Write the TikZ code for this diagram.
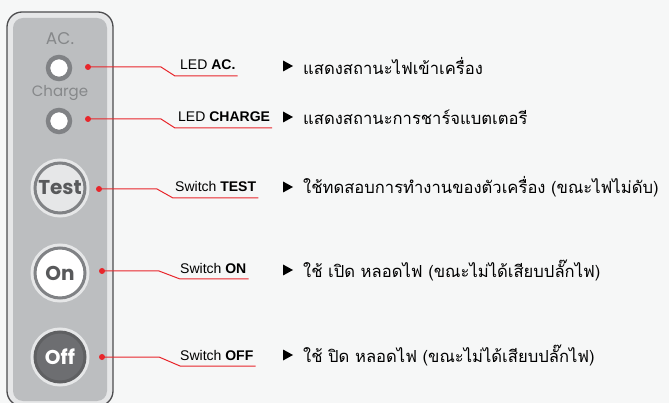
\documentclass[tikz,border=0pt]{standalone}
\usepackage{fontspec}
\setmainfont{Liberation Sans}
\newfontfamily\panelfont{Poppins}
\newfontfamily\thaifont[Script=Thai]{Loma}
\definecolor{bgcol}{HTML}{F6F7F7}
\definecolor{framegray}{HTML}{4D4D4F}
\definecolor{panelgray}{HTML}{BCBEC0}
\definecolor{rimgray}{HTML}{E6E7E8}
\definecolor{ringgray}{HTML}{808285}
\definecolor{textgray}{HTML}{86888A}
\definecolor{darkgray}{HTML}{58595B}
\definecolor{offgray}{HTML}{6D6E71}
\definecolor{offring}{HTML}{5F6062}
\definecolor{leadred}{HTML}{E8262B}
\tikzset{
  panellbl/.style = {inner sep=0pt, text=textgray},% texte du panneau
  ledlamp/.style = {circle, draw=ringgray, line width=4.5pt, fill=white,
    minimum size=22pt, inner sep=0pt},% voyant
  swbutton/.style = {circle, minimum size=50pt, inner sep=0pt, line width=3pt,
    draw=ringgray, preaction={draw=rimgray, line width=9pt},
    font=\panelfont\bfseries\fontsize{20}{20}\selectfont},% bouton
  leaddot/.style = {circle, fill=leadred, minimum size=6pt, inner sep=0pt},
  lead/.style = {draw=leadred, line width=1pt},
  callout/.style = {anchor=base west, inner sep=0pt,
    font=\fontsize{14}{14}\selectfont},
  thaitext/.style = {anchor=west, inner sep=0pt,
    font=\thaifont\fontsize{16.6}{16.6}\selectfont},
}
\begin{document}
\begin{tikzpicture}[x=1pt,y=-1pt]
  \useasboundingbox[fill=bgcol] (0,0) rectangle (669,403);
  % panneau
  \filldraw[fill=rimgray, draw=framegray, line width=1.3pt, rounded corners=15pt]
    (7,12) rectangle (113,406);
  \fill[panelgray, rounded corners=10pt] (13,18) rectangle (107,401);

  \node[panellbl, font=\panelfont\fontsize{17}{17}\selectfont] (acText) at (60,39) {AC.};
  \node[ledlamp] (ledAC) at (59,68) {};
  \node[panellbl, font=\panelfont\fontsize{15}{15}\selectfont] (chText) at (60,93) {Charge};
  \node[ledlamp] (ledCH) at (59,121) {};

  \node[swbutton, fill=rimgray, text=darkgray] (btnTest) at (60,188) {Test};
  \node[swbutton, fill=white, text=darkgray] (btnOn) at (60,273) {On};
  \node[swbutton, fill=offgray, draw=offring, text=white] (btnOff) at (60,357) {Off};

  % points rouges
  \node[leaddot] (dAC) at (88,67) {};
  \node[leaddot] (dCH) at (88,119) {};
  \node[leaddot] (dTest) at (99,189) {};
  \node[leaddot] (dOn) at (102,271) {};
  \node[leaddot] (dOff) at (102,357) {};

  \coordinate (kAC) at (161,67);   \coordinate (uAC) at (175,76);
  \coordinate (kCH) at (161,119);  \coordinate (uCH) at (175,128);
  \coordinate (kTest) at (157,189); \coordinate (uTest) at (173,198);
  \coordinate (kOn) at (159,271);  \coordinate (uOn) at (180,279);
  \coordinate (kOff) at (159,357); \coordinate (uOff) at (180,366);

  \node[callout] (lAC) at (180,70) {LED \textbf{AC.}};
  \node[callout] (lCH) at (178,122) {LED \textbf{CHARGE}};
  \node[callout] (lTest) at (175,192) {Switch \textbf{TEST}};
  \node[callout] (lOn) at (180,274) {Switch \textbf{ON}};
  \node[callout] (lOff) at (180,360) {Switch \textbf{OFF}};

  \draw[lead] (dAC.center) -- (kAC) -- (uAC) -- ([xshift=2pt]uAC -| lAC.east);
  \draw[lead] (dCH.center) -- (kCH) -- (uCH) -- ([xshift=2pt]uCH -| lCH.east);
  \draw[lead] (dTest.center) -- (kTest) -- (uTest) -- ([xshift=2pt]uTest -| lTest.east);
  \draw[lead] (dOn.center) -- (kOn) -- (uOn) -- ([xshift=2pt]uOn -| lOn.east);
  \draw[lead] (dOff.center) -- (kOff) -- (uOff) -- ([xshift=2pt]uOff -| lOff.east);

  % descriptions
  \foreach \y/\name/\txt in {66/tAC/แสดงสถานะไฟเข้าเครื่อง,
      117/tCH/แสดงสถานะการชาร์จแบตเตอรี,
      187/tTest/ใช้ทดสอบการทำงานของตัวเครื่อง (ขณะไฟไม่ดับ),
      270/tOn/ใช้ เปิด หลอดไฟ (ขณะไม่ได้เสียบปลั๊กไฟ),
      355/tOff/ใช้ ปิด หลอดไฟ (ขณะไม่ได้เสียบปลั๊กไฟ)}
  {
    \fill (283,\y-5.5) -- (293,\y) -- (283,\y+5.5) -- cycle;
    \node[thaitext] (\name) at (303,\y) {\txt};
  }
\end{tikzpicture}
\end{document}
